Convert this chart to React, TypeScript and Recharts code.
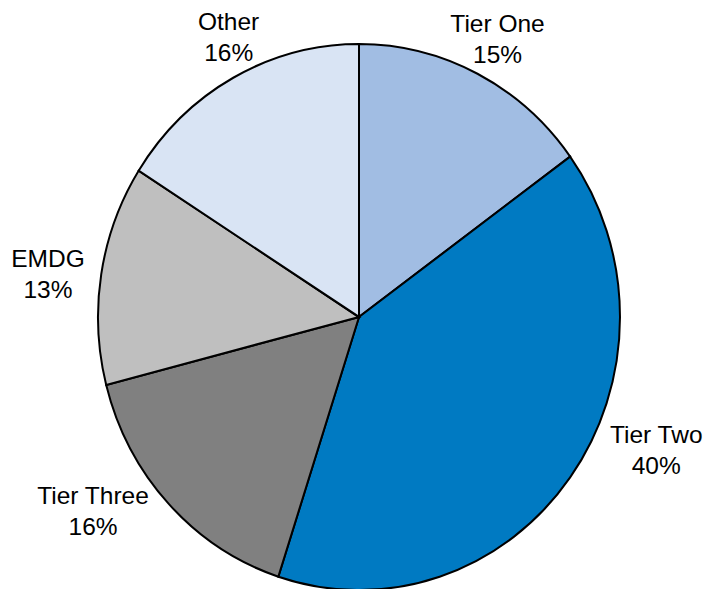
import React from "react"
import { PieChart, Pie, Cell } from "recharts"

const categories = ["Tier One", "Tier Two", "Tier Three", "EMDG", "Other"]
const shares = [15, 40, 16, 13, 16]
const colors = ["#A1BDE3", "#007AC2", "#808080", "#BFBFBF", "#D9E4F4"]

const data = categories.map((name, i) => ({ name, value: shares[i] }))

// the original pie is a little taller than wide
const CX = 359
const CY = 317
const R = 261
const K = 273 / 261
const FONT = "24.5px 'Liberation Sans', Arial, sans-serif"

// hand nudges so labels land where the source put them
const labelNudge: Record<string, [number, number]> = {
  "Tier One": [-5, 0],
  "Tier Two": [42, -49],
  "Tier Three": [-29, -18],
  EMDG: [-9, 6],
  Other: [14, -7],
}

let ctx: CanvasRenderingContext2D | null = null
function textWidth(s: string) {
  if (!ctx) ctx = document.createElement("canvas").getContext("2d")
  if (!ctx) return s.length * 13
  ctx.font = FONT
  return ctx.measureText(s).width
}

const renderLabel = (props: any) => {
  const { cx, cy, midAngle, outerRadius, name, percent } = props
  const a = ((90 - midAngle) * Math.PI) / 180
  const sx = Math.sin(a)
  const sy = -Math.cos(a)
  const gap = 8
  const px = cx + (outerRadius + gap) * sx
  const py = cy + (outerRadius * K + gap) * sy
  const half = textWidth(name) / 2
  const nudge = labelNudge[name] || [0, 0]
  const X = px + sx * half + nudge[0]
  const Y = py + sy * 30 + nudge[1]
  const y = cy + (Y - cy) / K
  return (
    <g transform={`translate(${X},${y}) scale(1,${1 / K})`}>
      <text
        textAnchor="middle"
        style={{ font: FONT }}
        fill="#000"
      >
        <tspan x={0} y={-7.5}>{name}</tspan>
        <tspan x={0} y={23.5}>{`${Math.round(percent * 100)}%`}</tspan>
      </text>
    </g>
  )
}

export default function App() {
  return (
    <div
      style={{
        position: "fixed",
        left: 0,
        top: 0,
        width: 703,
        height: 589,
        overflow: "hidden",
        background: "#fff",
      }}
    >
      <div style={{ transform: `scaleY(${K})`, transformOrigin: `${CX}px ${CY}px` }}>
        <PieChart width={703} height={589} margin={{ top: 0, right: 0, bottom: 0, left: 0 }}>
          <Pie
            data={data}
            dataKey="value"
            nameKey="name"
            cx={CX}
            cy={CY}
            outerRadius={R}
            startAngle={90}
            endAngle={-270}
            stroke="#000"
            strokeWidth={2}
            labelLine={false}
            label={renderLabel}
            isAnimationActive={false}
          >
            {data.map((entry, index) => (
              <Cell key={`cell-${index}`} fill={colors[index]} />
            ))}
          </Pie>
        </PieChart>
      </div>
    </div>
  )
}
